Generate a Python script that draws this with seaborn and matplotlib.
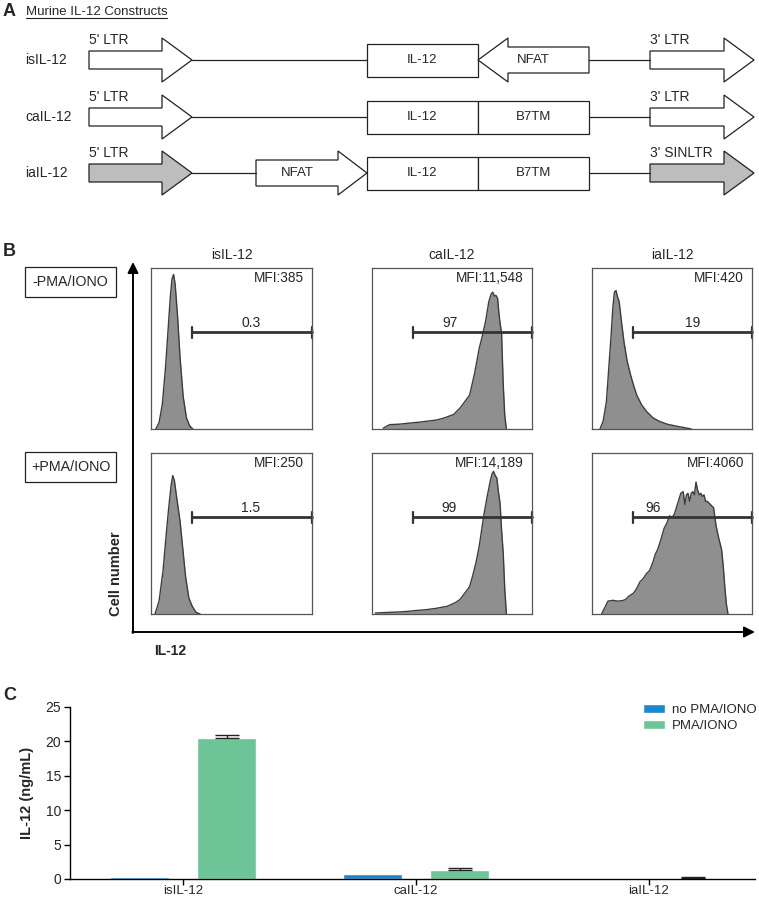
import numpy as np
import pandas as pd
import matplotlib
matplotlib.use("Agg")
import matplotlib.pyplot as plt
from matplotlib.patches import Polygon, Rectangle
import seaborn as sns

# ---------------- panel B : flow histograms (x = channel %, y = % of max) ----------------
is_minus_x = [3, 5, 7, 9, 10.5, 12, 13, 14, 15, 16.5, 18, 20, 22, 24, 26]
is_minus_y = [0, 4, 15, 38, 60, 82, 93, 96, 90, 70, 45, 20, 7, 2, 0]
ca_minus_x = [7, 11, 17, 24, 30, 34, 40, 45, 51, 55, 58, 61, 64, 67, 69, 71, 73, 74.5, 75.5, 76.5,
              77.5, 78.5, 79.5, 81, 82, 83, 84]
ca_minus_y = [0.5, 2.7, 3, 3.7, 4.3, 4.8, 5.5, 6.8, 9, 13, 17, 21, 34, 50, 58, 67, 79, 84, 85, 82.5,
              83, 81, 70, 59, 28, 8, 0]
ia_minus_x = [5, 7, 9, 10.5, 12, 13, 14, 15, 16, 17, 18.5, 20, 22, 24, 26, 28, 31, 34, 38, 42,
              47, 53, 58, 62]
ia_minus_y = [0, 5, 17, 38, 59, 75, 85, 86, 82, 79, 66, 54, 42, 34, 27, 21, 15, 11, 7, 4.8,
              3, 1.7, 0.8, 0]
is_plus_x = [2.5, 5, 7.5, 9.5, 11, 12.5, 13.5, 14.5, 16, 18, 20, 21.5, 23.5, 25.5, 28, 30.5]
is_plus_y = [0, 8, 27, 50, 66, 80, 86, 83, 72, 58, 38, 23, 10, 5, 1, 0]
ca_plus_x = [2, 8, 15, 22, 28, 34, 40, 47, 52, 55, 58, 61, 63, 65, 67, 68.5, 70, 72, 73, 74,
             75, 76, 77, 78, 79, 80, 81, 82, 83, 84]
ca_plus_y = [0.6, 0.9, 1.2, 1.6, 2.2, 2.7, 3.5, 4.8, 7, 9, 13, 17, 24, 32, 42, 52, 62, 73, 78, 83,
             87, 88.6, 86, 84.5, 76, 69, 52, 38, 15, 0]
ia_plus_x = [6, 8, 10, 13, 16, 19, 21, 23, 26, 28, 30, 32, 34, 36, 38, 39.5, 41, 43, 45, 47,
             48.5, 50, 51.5, 53, 54, 55.5, 57, 58, 59, 60, 61, 62, 63, 64, 65, 66, 67, 68, 69, 70,
             71, 72, 74, 76, 77.5, 79, 80, 81, 82, 83, 84, 85]
ia_plus_y = [0, 4, 8, 8.5, 8, 8.3, 9, 11, 13, 16, 20, 22, 25, 27, 32, 37, 40, 46, 53, 57,
             61, 60, 62, 67, 70, 75, 76, 68, 74, 75, 70, 75, 76, 74, 82, 77, 74, 75, 73, 74,
             70, 70, 68, 66, 55, 48, 44, 40, 30, 17, 6, 0]

col_titles = ["isIL-12", "caIL-12", "iaIL-12"]
row_titles = ["-PMA/IONO", "+PMA/IONO"]
mfi = [["MFI:385", "MFI:11,548", "MFI:420"],
       ["MFI:250", "MFI:14,189", "MFI:4060"]]
gate_pct = [["0.3", "97", "19"], ["1.5", "99", "96"]]
gate_start = 25.5
gate_level = 60
hists = [[(is_minus_x, is_minus_y), (ca_minus_x, ca_minus_y), (ia_minus_x, ia_minus_y)],
         [(is_plus_x, is_plus_y), (ca_plus_x, ca_plus_y), (ia_plus_x, ia_plus_y)]]

# ---------------- panel C : ELISA ----------------
constructs = ["isIL-12", "caIL-12", "iaIL-12"]
no_pma = [0.3, 0.7, 0.03]
pma = [20.5, 1.3, 0.15]
pma_err = [0.4, 0.35, 0.1]

sns.set_theme(style="white")
plt.rcParams['font.family'] = ['Liberation Sans', 'DejaVu Sans']
plt.rcParams['font.size'] = 10

W, H = 759, 900
FS = 10
fig = plt.figure(figsize=(W / 100, H / 100), dpi=100)


def px_axes(x0, y0, x1, y1):
    return fig.add_axes([x0 / W, 1 - y1 / H, (x1 - x0) / W, (y1 - y0) / H])


# overlay in pixel coords for schematic + decorations
ov = fig.add_axes([0, 0, 1, 1])
ov.set_xlim(0, W)
ov.set_ylim(H, 0)
ov.axis('off')

EC = '#222222'
LW = 0.9
GRAY = '#bdbdbd'


def block_arrow(tail, base, tip, cy, body, head, fc='white'):
    pts = [(tail, cy - body), (base, cy - body), (base, cy - head), (tip, cy),
           (base, cy + head), (base, cy + body), (tail, cy + body)]
    ov.add_patch(Polygon(pts, closed=True, fc=fc, ec=EC, lw=LW))


def box(x0, x1, cy, label):
    ov.add_patch(Rectangle((x0, cy - 16.5), x1 - x0, 33, fc='white', ec=EC, lw=LW))
    ov.text((x0 + x1) / 2, cy, label, ha='center', va='center', fontsize=9.5)


def hline(x0, x1, cy):
    ov.plot([x0, x1], [cy, cy], color=EC, lw=LW)


# ---- panel A
ov.text(3, 12, "A", fontsize=13, fontweight='bold', va='center', ha='left')
ov.text(26, 12, "Murine IL-12 Constructs", fontsize=9.5, va='center', ha='left')
ov.plot([26, 167], [18, 18], color=EC, lw=0.8)

row_cy = [60, 117, 173]
for name, cy in zip(col_titles, row_cy):
    ov.text(25, cy, name, fontsize=FS, va='center', ha='left')
    ov.text(89, cy - 20, "5' LTR", fontsize=FS, va='center', ha='left')

# isIL-12
cy = row_cy[0]
block_arrow(89, 162, 192, cy, 9, 22)
hline(192, 367, cy)
box(367, 478, cy, "IL-12")
block_arrow(589, 508, 478, cy, 13, 22)
ov.text(533, cy, "NFAT", ha='center', va='center', fontsize=9.5)
hline(589, 650, cy)
block_arrow(650, 724, 754, cy, 9, 22)
ov.text(650, cy - 20, "3' LTR", fontsize=FS, va='center', ha='left')

# caIL-12
cy = row_cy[1]
block_arrow(89, 162, 192, cy, 9, 22)
hline(192, 367, cy)
box(367, 478, cy, "IL-12")
box(478, 589, cy, "B7TM")
hline(589, 650, cy)
block_arrow(650, 724, 754, cy, 9, 22)
ov.text(650, cy - 20, "3' LTR", fontsize=FS, va='center', ha='left')

# iaIL-12
cy = row_cy[2]
block_arrow(89, 162, 192, cy, 9, 22, fc=GRAY)
hline(192, 256, cy)
block_arrow(256, 338, 367, cy, 13, 22)
ov.text(297, cy, "NFAT", ha='center', va='center', fontsize=9.5)
box(367, 478, cy, "IL-12")
box(478, 589, cy, "B7TM")
hline(589, 650, cy)
block_arrow(650, 724, 754, cy, 9, 22, fc=GRAY)
ov.text(650, cy - 20, "3' SINLTR", fontsize=FS, va='center', ha='left')

# ---- panel B decorations
ov.text(3, 252, "B", fontsize=13, fontweight='bold', va='center', ha='left')
col_px = [(151, 312), (372, 532), (592, 752)]
row_px = [(268, 429), (453, 614)]
for (x0, x1), t in zip(col_px, col_titles):
    ov.text((x0 + x1) / 2, 255, t, ha='center', va='center', fontsize=FS)
for (y0, y1), t in zip([(267, 297), (452, 482)], row_titles):
    ov.add_patch(Rectangle((25, y0), 91, y1 - y0, fc='white', ec=EC, lw=LW))
    ov.text(70.5, (y0 + y1) / 2, t, ha='center', va='center', fontsize=10.3)

arrow_kw = dict(arrowstyle='-|>', lw=1.4, color='black', mutation_scale=16, shrinkA=0, shrinkB=0)
ov.annotate('', xy=(133, 262), xytext=(133, 633), arrowprops=arrow_kw)
ov.annotate('', xy=(755, 632), xytext=(132.3, 632), arrowprops=arrow_kw)
ov.text(116, 574, "Cell number", rotation=90, ha='center', va='center', fontsize=10.5, fontweight='bold')
ov.text(170, 651, "IL-12", ha='center', va='center', fontsize=10, fontweight='bold')

for r in range(2):
    for c in range(3):
        ax = px_axes(col_px[c][0], row_px[r][0], col_px[c][1], row_px[r][1])
        hx, hy = hists[r][c]
        ax.fill_between(hx, hy, color='#8f8f8f', lw=0)
        sns.lineplot(x=hx, y=hy, ax=ax, color='#3c3c3c', lw=1, sort=False, estimator=None)
        ax.set_xlim(0, 100)
        ax.set_ylim(0, 100)
        ax.set_xticks([])
        ax.set_yticks([])
        ax.set_xlabel('')
        ax.set_ylabel('')
        for s in ax.spines.values():
            s.set_color('#555555')
            s.set_linewidth(0.9)
        ax.plot([gate_start, 100], [gate_level, gate_level], color='#333333', lw=2, clip_on=False)
        for gx in (gate_start, 100):
            ax.plot([gx, gx], [gate_level - 3.3, gate_level + 3.3], color='#333333', lw=1.6, clip_on=False)
        ax.text(95, 94, mfi[r][c], ha='right', va='center', fontsize=9.8)
        gx_lab = [62, 49, 63] if r == 0 else [62, 48, 38]
        ax.text(gx_lab[c], 66, gate_pct[r][c], ha='center', va='center', fontsize=FS)

# ---- panel C
ov.text(3, 695, "C", fontsize=13, fontweight='bold', va='center', ha='left')
axC = px_axes(70, 707, 755, 879)
df = pd.DataFrame({
    'construct': constructs * 2,
    'value': no_pma + pma,
    'condition': ['no PMA/IONO'] * 3 + ['PMA/IONO'] * 3,
})
blue, green = '#1b87cd', '#6dc497'
sns.barplot(data=df, x='construct', y='value', hue='condition', palette=[blue, green],
            width=0.75, gap=0.33, errorbar=None, ax=axC, saturation=1)
green_bars = axC.containers[1]
xs = [p.get_x() + p.get_width() / 2 for p in green_bars]
axC.errorbar(xs, pma, yerr=[np.zeros(3), pma_err], fmt='none', ecolor='#222222',
             elinewidth=1, capsize=8.5, capthick=1)
axC.set_ylim(0, 25)
axC.set_xlim(-0.485, 2.455)
axC.set_yticks([0, 5, 10, 15, 20, 25])
axC.set_xlabel('')
axC.set_ylabel('IL-12 (ng/mL)', fontweight='bold', fontsize=10.5, labelpad=8)
sns.despine(ax=axC)
for s in ('left', 'bottom'):
    axC.spines[s].set_color('black')
    axC.spines[s].set_linewidth(1)
axC.tick_params(axis='both', which='both', direction='out', length=4.5, width=1,
                color='black', labelsize=FS, pad=2, bottom=True, left=True)
axC.tick_params(axis='x', labelsize=9.5, pad=0.5, length=4)
handles = list(axC.containers)
axC.legend(handles, ['no PMA/IONO', 'PMA/IONO'], loc='upper left',
           bbox_to_anchor=(643 / W, 1 - 704 / H), bbox_transform=fig.transFigure,
           frameon=False, handlelength=1.7, handleheight=0.7, handletextpad=0.5,
           labelspacing=0.3, borderaxespad=0, borderpad=0, fontsize=9.5)

fig.savefig('out.png', dpi=100)
